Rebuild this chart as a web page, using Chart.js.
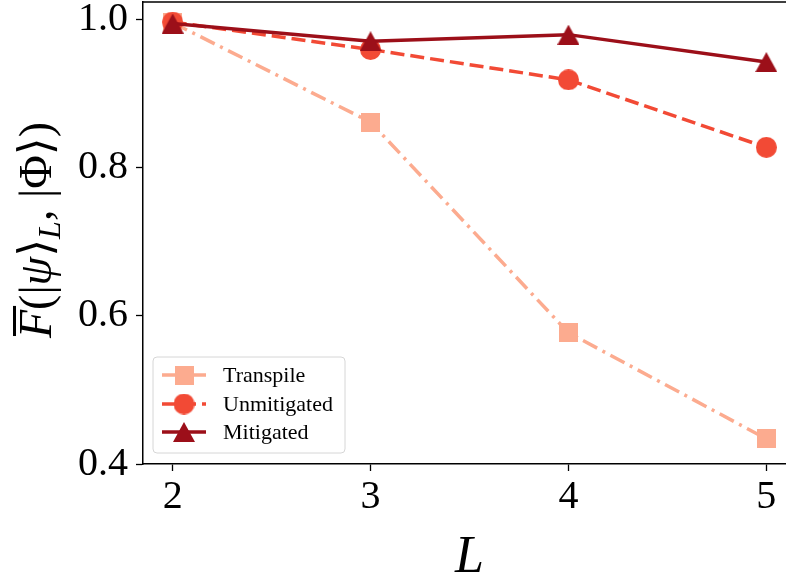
<!DOCTYPE html>
<html>
<head>
<meta charset="utf-8">
<script src="https://cdn.jsdelivr.net/npm/chart.js@4/dist/chart.umd.min.js"></script>
<style>
  html, body { margin: 0; padding: 0; overflow: hidden; background: #fff; }
  #wrap { width: 820px; height: 580px; }
</style>
</head>
<body>
<div id="wrap"><canvas id="c" width="820" height="580"></canvas></div>
<script>
// ---- data ----
const L_VALUES    = [2, 3, 4, 5];
const TRANSPILE   = [0.995, 0.861, 0.577, 0.434];
const UNMITIGATED = [0.996, 0.959, 0.918, 0.827];
const MITIGATED   = [0.994, 0.970, 0.979, 0.942];
const SERIES_NAMES = ['Transpile', 'Unmitigated', 'Mitigated'];
const X_TICKS = [2, 3, 4, 5];
const Y_TICKS = [0.4, 0.6, 0.8, 1.0];

// ---- styles ----
const COL_T = '#fcab8f';
const COL_U = '#f24a35';
const COL_M = '#9c0f19';
const SERIF = '"Liberation Serif", "DejaVu Serif", serif';

function makeMarker(shape, color) {
  const c = document.createElement('canvas');
  let w, h;
  if (shape === 'square') { w = 19; h = 19; }
  else if (shape === 'circle') { w = 21; h = 21; }
  else { w = 22; h = 20; }
  c.width = w; c.height = h;
  const g = c.getContext('2d');
  g.fillStyle = color;
  if (shape === 'square') {
    g.fillRect(0, 0, w, h);
  } else if (shape === 'circle') {
    g.beginPath(); g.arc(w / 2, h / 2, w / 2, 0, Math.PI * 2); g.fill();
  } else {
    g.beginPath(); g.moveTo(w / 2, 0); g.lineTo(w, h); g.lineTo(0, h); g.closePath(); g.fill();
  }
  return c;
}
const MK_T = makeMarker('square', COL_T);
const MK_U = makeMarker('circle', COL_U);
const MK_M = makeMarker('triangle', COL_M);

const toXY = arr => arr.map((v, i) => ({ x: L_VALUES[i], y: v }));

const datasets = [
  { label: SERIES_NAMES[0], data: toXY(TRANSPILE), borderColor: COL_T, borderWidth: 3.5,
    borderDash: [16, 6, 3, 6], pointStyle: MK_T, order: 3, marker: MK_T },
  { label: SERIES_NAMES[1], data: toXY(UNMITIGATED), borderColor: COL_U, borderWidth: 3.5,
    borderDash: [14, 6], pointStyle: MK_U, order: 2, marker: MK_U },
  { label: SERIES_NAMES[2], data: toXY(MITIGATED), borderColor: COL_M, borderWidth: 3.5,
    borderDash: [], pointStyle: MK_M, order: 1, marker: MK_M }
];
datasets.forEach(d => { d.fill = false; d.tension = 0; d.pointRadius = 10; d.pointHoverRadius = 10; d.backgroundColor = d.borderColor; d.clip = false; });

const framePlugin = {
  id: 'frame',
  afterDatasetsDraw(chart) {
    const { ctx, chartArea: a } = chart;
    ctx.save();
    ctx.strokeStyle = '#000';
    ctx.lineWidth = 1.5;
    ctx.beginPath();
    ctx.moveTo(a.left, a.top); ctx.lineTo(a.right, a.top); ctx.lineTo(a.right, a.bottom);
    ctx.stroke();
    ctx.restore();
  }
};

const titlesPlugin = {
  id: 'titles',
  afterDraw(chart) {
    const { ctx, chartArea: a } = chart;
    ctx.save();
    ctx.fillStyle = '#000';
    // x title
    ctx.font = 'italic 52px ' + SERIF;
    ctx.textAlign = 'center';
    ctx.textBaseline = 'alphabetic';
    ctx.fillText('L', (a.left + a.right) / 2, 572);
    // y title: F̄(|ψ⟩_L, |Φ⟩)
    const size = 46;
    const parts = [
      { t: 'F', f: 'italic ' + size + 'px ' + SERIF, dy: 0, over: true },
      { t: '(|', f: size + 'px ' + SERIF, dy: 0 },
      { t: 'ψ', f: 'italic ' + size + 'px ' + SERIF, dy: 0 },
      { t: '⟩', f: size + 'px "DejaVu Serif", serif', dy: 0 },
      { t: 'L', f: 'italic ' + Math.round(size * 0.7) + 'px ' + SERIF, dy: 9 },
      { t: ', |', f: size + 'px ' + SERIF, dy: 0 },
      { t: 'Φ', f: size + 'px ' + SERIF, dy: 0 },
      { t: '⟩', f: size + 'px "DejaVu Serif", serif', dy: 0 },
      { t: ')', f: size + 'px ' + SERIF, dy: 0 }
    ];
    let total = 0;
    parts.forEach(p => { ctx.font = p.f; p.w = ctx.measureText(p.t).width; total += p.w; });
    const cy = 230;
    ctx.translate(51, cy);
    ctx.rotate(-Math.PI / 2);
    ctx.textAlign = 'left';
    let x = -total / 2;
    parts.forEach(p => {
      ctx.font = p.f;
      ctx.fillText(p.t, x, p.dy);
      if (p.over) {
        ctx.fillRect(x + 2, -38, p.w + 2, 3);
      }
      x += p.w;
    });
    ctx.restore();
  }
};

const legendPlugin = {
  id: 'customLegend',
  afterDraw(chart) {
    const { ctx } = chart;
    const bx = 153, by = 357, bw = 192, bh = 96, r = 4;
    ctx.save();
    ctx.beginPath();
    ctx.moveTo(bx + r, by);
    ctx.arcTo(bx + bw, by, bx + bw, by + bh, r);
    ctx.arcTo(bx + bw, by + bh, bx, by + bh, r);
    ctx.arcTo(bx, by + bh, bx, by, r);
    ctx.arcTo(bx, by, bx + bw, by, r);
    ctx.closePath();
    ctx.fillStyle = 'rgba(255,255,255,0.8)';
    ctx.fill();
    ctx.strokeStyle = '#d6d6d6';
    ctx.lineWidth = 1;
    ctx.stroke();
    const rows = [375, 404, 432];
    chart.data.datasets.forEach((d, i) => {
      const y = rows[i];
      ctx.strokeStyle = d.borderColor;
      ctx.lineWidth = d.borderWidth;
      ctx.setLineDash(d.borderDash);
      ctx.beginPath(); ctx.moveTo(162, y); ctx.lineTo(206, y); ctx.stroke();
      ctx.setLineDash([]);
      const m = d.marker;
      ctx.drawImage(m, 184 - m.width / 2, y - m.height / 2);
      ctx.fillStyle = '#000';
      ctx.font = '22px ' + SERIF;
      ctx.textAlign = 'left';
      ctx.textBaseline = 'middle';
      ctx.fillText(d.label, 223, y + 1);
    });
    ctx.restore();
  }
};

new Chart(document.getElementById('c'), {
  type: 'line',
  data: { datasets },
  options: {
    responsive: false,
    animation: false,
    events: [],
    layout: { autoPadding: false, padding: { top: 2, right: 24, left: 0, bottom: 0 } },
    plugins: { legend: { display: false }, tooltip: { enabled: false } },
    scales: {
      x: {
        type: 'linear', min: 1.85, max: 5.15,
        afterBuildTicks: s => { s.ticks = X_TICKS.map(v => ({ value: v })); },
        afterFit: s => { s.height = 116; s.paddingLeft = 0; s.paddingRight = 0; },
        ticks: { color: '#000', font: { family: SERIF, size: 40 }, padding: 2, callback: v => String(v), maxRotation: 0 },
        grid: { drawOnChartArea: false, drawTicks: true, tickLength: 7, tickWidth: 1.3, tickColor: '#000' },
        border: { display: true, color: '#000', width: 1.5 }
      },
      y: {
        type: 'linear', min: 0.4, max: 1.023,
        afterBuildTicks: s => { s.ticks = Y_TICKS.map(v => ({ value: v })); },
        afterFit: s => { s.width = 143; s.paddingTop = 0; s.paddingBottom = 0; },
        ticks: { color: '#000', font: { family: SERIF, size: 40 }, padding: 8, callback: v => v.toFixed(1) },
        grid: { drawOnChartArea: false, drawTicks: true, tickLength: 7, tickWidth: 1.3, tickColor: '#000' },
        border: { display: true, color: '#000', width: 1.5 }
      }
    }
  },
  plugins: [framePlugin, titlesPlugin, legendPlugin]
});
</script>
</body>
</html>
